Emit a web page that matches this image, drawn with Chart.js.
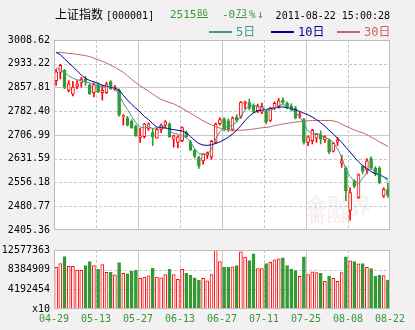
<!DOCTYPE html>
<html>
<head>
<meta charset="utf-8">
<script src="https://cdn.jsdelivr.net/npm/chart.js@4.4.1/dist/chart.umd.min.js"></script>
<style>
  body { margin: 0; background: #f2f0f0; }
  #wrap { position: relative; width: 415px; height: 330px; }
  canvas { position: absolute; left: 0; }
  #price { top: 0; }
  #vol { top: 240px; }
</style>
</head>
<body>
<div id="wrap">
  <canvas id="price" width="415" height="240"></canvas>
  <canvas id="vol" width="415" height="90"></canvas>
</div>
<script>
// daily K-line, 2011-04-29 .. 2011-08-22
const dates = ['04-29', '05-13', '05-27', '06-13', '06-27', '07-11', '07-25', '08-08', '08-22'];
const dateTicks = [0, 10, 20, 30, 40, 50, 60, 70, 80];

const priceTicks = [2405.36, 2480.77, 2556.18, 2631.59, 2706.99, 2782.40, 2857.81, 2933.22, 3008.62];
const priceLabels = ['2405.36', '2480.77', '2556.18', '2631.59', '2706.99', '2782.40', '2857.81', '2933.22', '3008.62'];
const volTicks = [0, 4192454, 8384909, 12577363];
const volLabels = ['x10', '4192454', '8384909', '12577363'];

const open = [
  2879.7, 2905.5, 2912.7, 2848.8, 2836.4, 2861.2, 2872.5, 2884.9, 2864.3, 2841.6,
  2864.3, 2841.6, 2841.6, 2876.6, 2851.9, 2848.8, 2764.3, 2761.1, 2750.8, 2735.3,
  2699.2, 2701.3, 2728.1, 2714.7, 2697.2, 2725.0, 2738.4, 2742.6, 2694.1, 2683.8,
  2689.0, 2714.7, 2683.8, 2658.0, 2635.3, 2625.0, 2642.5, 2637.4, 2684.0, 2742.6,
  2757.0, 2752.0, 2725.0, 2763.2, 2766.3, 2807.5, 2810.0, 2800.0, 2783.8, 2779.7,
  2781.8, 2752.9, 2792.1, 2797.2, 2817.9, 2807.5, 2800.0, 2792.0, 2766.0, 2756.0,
  2683.8, 2689.0, 2697.2, 2707.5, 2691.0, 2691.0, 2656.0, 2683.8, 2616.8, 2601.3,
  2467.2, 2562.1, 2508.5, 2606.5, 2596.1, 2632.2, 2601.3, 2601.3, 2513.6, 2534.0
];
const high = [
  2915.8, 2931.3, 2914.8, 2879.7, 2876.6, 2879.7, 2890.0, 2893.1, 2869.4, 2872.5,
  2872.5, 2864.3, 2874.6, 2879.7, 2864.3, 2853.9, 2771.4, 2766.3, 2756.0, 2738.4,
  2728.1, 2744.6, 2745.7, 2728.1, 2730.2, 2742.6, 2752.9, 2745.7, 2706.4, 2704.4,
  2733.0, 2720.0, 2690.0, 2662.0, 2640.0, 2648.0, 2652.9, 2690.0, 2745.0, 2762.0,
  2762.0, 2758.0, 2765.0, 2772.0, 2813.0, 2815.0, 2821.0, 2806.0, 2805.0, 2808.0,
  2785.0, 2795.0, 2812.0, 2823.0, 2825.0, 2812.0, 2806.0, 2798.0, 2780.0, 2760.0,
  2704.4, 2725.0, 2711.6, 2719.9, 2704.4, 2694.1, 2683.8, 2699.2, 2642.5, 2606.5,
  2539.4, 2565.2, 2583.7, 2611.6, 2632.2, 2637.4, 2606.5, 2606.5, 2539.4, 2555.0
];
const low = [
  2864.3, 2884.9, 2853.9, 2843.6, 2831.3, 2853.9, 2859.1, 2864.3, 2835.4, 2828.2,
  2841.6, 2817.9, 2838.5, 2851.9, 2848.8, 2766.3, 2738.4, 2735.3, 2728.1, 2702.4,
  2683.8, 2697.2, 2721.9, 2673.5, 2697.2, 2714.7, 2730.2, 2699.2, 2668.3, 2666.2,
  2686.0, 2698.0, 2657.0, 2634.0, 2601.0, 2614.0, 2632.0, 2630.0, 2680.0, 2738.0,
  2720.0, 2718.0, 2720.0, 2748.0, 2760.0, 2790.0, 2787.0, 2778.0, 2778.0, 2775.0,
  2742.0, 2750.0, 2788.0, 2792.0, 2805.0, 2790.0, 2784.0, 2758.0, 2760.0, 2678.0,
  2673.5, 2678.6, 2683.8, 2678.6, 2683.8, 2647.7, 2652.9, 2673.5, 2604.4, 2498.2,
  2436.3, 2539.4, 2505.4, 2583.7, 2583.7, 2598.2, 2577.5, 2552.8, 2508.5, 2508.5
];
const close = [
  2907.6, 2928.2, 2859.1, 2869.4, 2859.1, 2869.4, 2884.9, 2876.6, 2838.5, 2867.3,
  2843.6, 2848.8, 2869.4, 2853.9, 2859.1, 2771.4, 2768.3, 2738.4, 2730.2, 2704.4,
  2704.4, 2742.6, 2742.6, 2701.3, 2725.0, 2738.4, 2748.8, 2701.3, 2704.4, 2701.3,
  2730.2, 2701.3, 2660.1, 2639.5, 2608.5, 2645.6, 2649.8, 2686.9, 2742.0, 2756.0,
  2727.0, 2725.0, 2761.1, 2752.9, 2810.6, 2812.7, 2792.0, 2782.0, 2799.3, 2797.2,
  2748.8, 2792.1, 2807.5, 2815.8, 2810.6, 2797.2, 2788.0, 2761.0, 2772.0, 2683.8,
  2701.3, 2722.0, 2709.6, 2694.1, 2701.3, 2652.9, 2680.7, 2691.0, 2625.0, 2529.1,
  2524.0, 2544.6, 2580.7, 2591.0, 2625.0, 2601.3, 2583.7, 2554.9, 2534.36, 2515.86
];
const volume = [
  8870000, 9690000, 11200000, 9070000, 9070000, 8310000, 8250000, 9280000, 10100000, 9280000,
  8450000, 9480000, 7830000, 7830000, 7280000, 9900000, 7630000, 7500000, 8100000, 8250000,
  6540000, 6800000, 7070000, 8720000, 6800000, 6660000, 7360000, 8450000, 7360000, 6330000,
  8450000, 7630000, 7220000, 6660000, 6190000, 6540000, 5980000, 7360000, 12577363, 10100000,
  8870000, 8870000, 9000000, 9280000, 12170000, 11070000, 10300000, 11750000, 8600000, 8600000,
  9690000, 9960000, 10500000, 10700000, 10930000, 9280000, 8450000, 8180000, 6950000, 11130000,
  7360000, 7900000, 7770000, 7630000, 5920000, 7010000, 6540000, 5920000, 7770000, 11130000,
  10250000, 10100000, 9630000, 9690000, 8870000, 8600000, 7010000, 7220000, 7150000, 6190000
];
const ma5 = [
  2921, 2914, 2906, 2895, 2887, 2882, 2880, 2875, 2872, 2869,
  2864, 2859, 2859, 2862, 2854, 2835, 2808, 2787, 2766, 2746,
  2732, 2730, 2732, 2728, 2730, 2735, 2734, 2720, 2712, 2710,
  2704, 2699, 2684, 2663, 2648, 2646, 2646, 2663, 2694, 2718,
  2730, 2735, 2738, 2749, 2766, 2787, 2800, 2802, 2797, 2794,
  2787, 2784, 2792, 2800, 2804, 2797, 2787, 2777, 2766, 2741,
  2720, 2710, 2712, 2708, 2699, 2694, 2684, 2663, 2637, 2596,
  2576, 2560, 2553, 2570, 2588, 2601, 2588, 2581, 2574, 2560
];
const ma10 = [
  2969, 2962, 2949, 2936, 2924, 2911, 2897, 2887, 2880, 2876,
  2871, 2865, 2862, 2859, 2856, 2849, 2833, 2818, 2804, 2792,
  2780, 2766, 2756, 2743, 2732, 2730, 2729, 2726, 2724, 2722,
  2720, 2714, 2702, 2690, 2680, 2675, 2674, 2676, 2680, 2685,
  2692, 2700, 2710, 2722, 2737, 2753, 2767, 2777, 2784, 2786,
  2788, 2791, 2793, 2796, 2796, 2794, 2791, 2786, 2782, 2776,
  2771, 2764, 2756, 2746, 2735, 2722, 2710, 2697, 2684, 2668,
  2653, 2637, 2622, 2609, 2601, 2591, 2584, 2581, 2574, 2567
];
const ma30 = [
  2969, 2969, 2968, 2966, 2965, 2963, 2961, 2959, 2956, 2951,
  2946, 2941, 2935, 2929, 2922, 2914, 2906, 2895, 2884, 2873,
  2863, 2855, 2846, 2837, 2828, 2820, 2815, 2810, 2806, 2799,
  2792, 2784, 2776, 2768, 2760, 2752, 2745, 2739, 2733, 2729,
  2725, 2723, 2722, 2722, 2722, 2723, 2724, 2726, 2728, 2730,
  2731, 2733, 2737, 2739, 2742, 2744, 2746, 2748, 2749, 2751,
  2752, 2753, 2753, 2753, 2753, 2753, 2752, 2748, 2741, 2735,
  2729, 2723, 2718, 2714, 2708, 2700, 2693, 2685, 2678, 2671
];

const RED = '#ff0000';
const GREEN = '#339933';
const MONO = '"DejaVu Sans Mono", monospace';
const CJK = '"DejaVu Sans Mono", "Noto Sans CJK SC", sans-serif';

const xs = close.map((_, i) => i + 0.5);
const isUp = i => close[i] >= open[i];
const edge = close.map((_, i) => isUp(i) ? RED : GREEN);
const fill = close.map((_, i) => isUp(i) ? '#ffffff' : GREEN);
const pts = arr => arr.map((v, i) => ({ x: xs[i], y: v }));

// white plot area, dashed/solid grid and frame
const panel = {
  id: 'panel',
  beforeDatasetsDraw(chart, args, opts) {
    const { ctx, chartArea: a, scales: { x, y } } = chart;
    ctx.save();
    ctx.fillStyle = '#ffffff';
    ctx.fillRect(a.left, a.top, a.right - a.left, a.bottom - a.top);
    ctx.lineWidth = 1;
    ctx.strokeStyle = '#c8c8c8';
    const line = (x1, y1, x2, y2, dashed) => {
      ctx.setLineDash(dashed ? [3, 2] : []);
      ctx.beginPath();
      ctx.moveTo(x1, y1);
      ctx.lineTo(x2, y2);
      ctx.stroke();
    };
    dateTicks.slice(1, -1).forEach(v => {
      const px = Math.round(x.getPixelForValue(v)) + 0.5;
      line(px, a.top, px, a.bottom, v % 20 !== 0);
    });
    opts.yGrid.forEach(v => {
      const py = Math.round(y.getPixelForValue(v)) + 0.5;
      line(a.left, py, a.right, py, !opts.ySolid.includes(v));
    });
    ctx.restore();
  },
  afterDraw(chart) {
    const { ctx, chartArea: a } = chart;
    ctx.save();
    ctx.strokeStyle = '#bdbdbd';
    ctx.lineWidth = 1;
    ctx.strokeRect(Math.round(a.left) + 0.5, Math.round(a.top) + 0.5,
      Math.round(a.right - a.left) - 1, Math.round(a.bottom - a.top) - 1);
    ctx.restore();
  }
};

// heading, quote and legend above the price panel
const header = {
  id: 'header',
  beforeDatasetsDraw(chart) {
    const { ctx } = chart;
    ctx.save();
    // site mark behind the candles
    ctx.fillStyle = 'rgba(160,160,160,0.13)';
    ctx.font = 'bold 22px "Noto Sans CJK SC", sans-serif';
    ctx.fillText('金融界', 305, 214);
    ctx.fillStyle = 'rgba(220,110,110,0.15)';
    ctx.font = 'bold 9px "DejaVu Sans", sans-serif';
    ctx.fillText('JRJ.COM', 310, 223);
    ctx.restore();
  },
  afterDraw(chart) {
    const { ctx } = chart;
    ctx.save();
    ctx.textBaseline = 'alphabetic';
    ctx.fillStyle = '#000';
    ctx.font = '12px "Noto Sans CJK SC", sans-serif';
    ctx.fillText('上证指数', 55, 19);
    ctx.font = '10px ' + MONO;
    ctx.fillText('[000001]', 106, 19);
    ctx.textAlign = 'right';
    ctx.fillText('2011-08-22 15:00:28', 390, 19);
    ctx.textAlign = 'left';

    ctx.fillStyle = GREEN;
    ctx.strokeStyle = GREEN;
    ctx.font = '11px ' + MONO;
    ctx.fillText('2515', 170, 18);
    ctx.fillText('-0', 222, 18);
    ctx.fillText('%', 249, 18);
    ctx.fillText('↓', 257, 18);
    ctx.font = '9px ' + MONO;
    ctx.fillText('86', 197, 15.5);
    ctx.fillText('73', 236, 15.5);
    ctx.lineWidth = 1;
    ctx.beginPath();
    ctx.moveTo(197, 17.5); ctx.lineTo(208, 17.5);
    ctx.moveTo(236, 17.5); ctx.lineTo(247, 17.5);
    ctx.stroke();

    const legend = [['5日', '#3a9a96', 209], ['10日', '#000099', 271], ['30日', '#c86464', 337]];
    ctx.font = '12px ' + CJK;
    legend.forEach(([txt, col, lx]) => {
      ctx.fillStyle = col;
      ctx.fillRect(lx, 31, 23, 2);
      ctx.fillText(txt, lx + 27, 36);
    });
    ctx.restore();
  }
};

const common = {
  responsive: false,
  animation: false,
  devicePixelRatio: 1,
  events: []
};

new Chart(document.getElementById('price'), {
  type: 'bar',
  data: {
    datasets: [
      { type: 'line', data: pts(ma5), borderColor: '#3a9a96', borderWidth: 1, pointRadius: 0, order: 0 },
      { type: 'line', data: pts(ma10), borderColor: '#000099', borderWidth: 1, pointRadius: 0, order: 0 },
      { type: 'line', data: pts(ma30), borderColor: '#c86464', borderWidth: 1, pointRadius: 0, order: 0 },
      {
        data: open.map((o, i) => ({ x: xs[i], y: [o, close[i]] })),
        backgroundColor: fill, borderColor: edge, borderWidth: 1, borderSkipped: false,
        barThickness: 3, grouped: false, order: 1
      },
      {
        data: low.map((l, i) => ({ x: xs[i], y: [l, high[i]] })),
        backgroundColor: edge, barThickness: 1, grouped: false, order: 2
      }
    ]
  },
  options: {
    ...common,
    layout: { padding: { left: 0, right: 25, top: 40, bottom: 5 } },
    plugins: {
      legend: { display: false },
      tooltip: { enabled: false },
      panel: { yGrid: priceTicks.slice(1, -1), ySolid: [2857.81, 2706.99] }
    },
    scales: {
      x: { type: 'linear', min: 0, max: 80, offset: false, display: false },
      y: {
        min: 2405.36, max: 3008.62,
        afterBuildTicks: s => { s.ticks = priceTicks.map(v => ({ value: v })); },
        afterFit: s => { s.width = 54; },
        grid: { display: false, drawTicks: false },
        border: { display: false },
        ticks: { color: '#000', padding: 4, font: { family: MONO, size: 10 }, callback: (v, i) => priceLabels[i] }
      }
    }
  },
  plugins: [panel, header]
});

new Chart(document.getElementById('vol'), {
  type: 'bar',
  data: {
    datasets: [{
      data: pts(volume),
      backgroundColor: fill, borderColor: edge, borderWidth: 1, borderSkipped: false,
      barThickness: 3
    }]
  },
  options: {
    ...common,
    layout: { padding: { left: 0, right: 25, top: 8, bottom: 0 } },
    plugins: {
      legend: { display: false },
      tooltip: { enabled: false },
      panel: { yGrid: volTicks.slice(1, -1), ySolid: [] }
    },
    scales: {
      x: {
        type: 'linear', min: 0, max: 80, offset: false,
        afterBuildTicks: s => { s.ticks = dateTicks.map(v => ({ value: v })); },
        afterFit: s => { s.height = 21; },
        grid: { display: false, drawTicks: false, offset: false },
        border: { display: false },
        ticks: { color: GREEN, padding: 4, maxRotation: 0, autoSkip: false, font: { family: MONO, size: 10 }, callback: (v, i) => dates[i] }
      },
      y: {
        min: 0, max: 12577363,
        afterBuildTicks: s => { s.ticks = volTicks.map(v => ({ value: v })); },
        afterFit: s => { s.width = 54; },
        grid: { display: false, drawTicks: false },
        border: { display: false },
        ticks: { color: '#000', padding: 4, font: { family: MONO, size: 10 }, callback: (v, i) => volLabels[i] }
      }
    }
  },
  plugins: [panel]
});
</script>
</body>
</html>
